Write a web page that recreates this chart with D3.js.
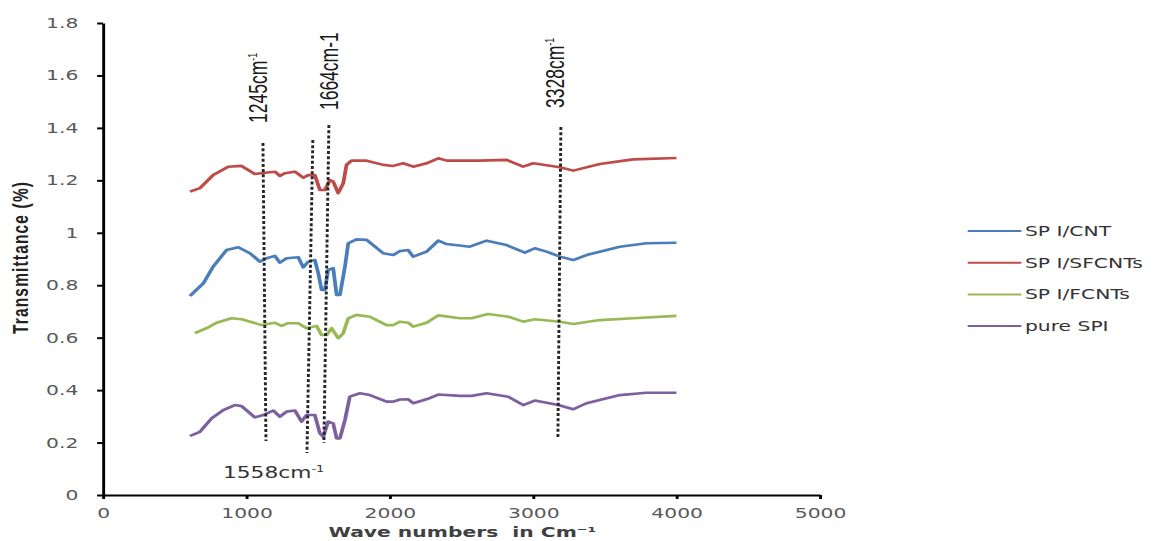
<!DOCTYPE html>
<html>
<head>
<meta charset="utf-8">
<script src="https://cdn.jsdelivr.net/npm/d3@7"></script>
<style>
  html, body { margin: 0; padding: 0; background: #fff; }
  #chart { width: 1154px; height: 541px; }
</style>
</head>
<body>
<div id="chart"></div>
<script>
// --------------------------------------
//  Data  [wave number, transmittance]
// --------------------------------------

const spiCnt = [[607,0.759],[700,0.807],[769,0.871],[862,0.934],[944,0.945],[1025,0.922],[1095,0.890],[1142,0.903],[1199,0.912],[1234,0.886],[1281,0.903],[1362,0.907],[1397,0.868],[1432,0.890],[1478,0.896],[1502,0.846],[1525,0.782],[1548,0.782],[1571,0.858],[1606,0.865],[1630,0.763],[1653,0.763],[1688,0.871],[1711,0.960],[1769,0.975],[1839,0.973],[1955,0.922],[2025,0.915],[2071,0.930],[2129,0.934],[2164,0.909],[2257,0.928],[2339,0.970],[2397,0.957],[2559,0.947],[2676,0.970],[2815,0.953],[2943,0.924],[3012,0.941],[3094,0.928],[3187,0.909],[3280,0.896],[3373,0.915],[3605,0.947],[3791,0.960],[4000,0.962]];

const spiSfcnt = [[607,1.157],[676,1.170],[769,1.220],[874,1.252],[967,1.255],[1060,1.224],[1130,1.229],[1199,1.233],[1234,1.217],[1269,1.227],[1339,1.233],[1397,1.210],[1432,1.220],[1478,1.220],[1513,1.163],[1548,1.163],[1583,1.201],[1606,1.195],[1641,1.151],[1676,1.189],[1699,1.259],[1734,1.275],[1839,1.275],[1955,1.259],[2025,1.255],[2094,1.265],[2164,1.252],[2257,1.265],[2339,1.284],[2397,1.275],[2629,1.275],[2815,1.278],[2931,1.252],[3001,1.265],[3187,1.250],[3280,1.237],[3466,1.262],[3698,1.280],[4000,1.285]];

const spiFcnt = [[642,0.617],[723,0.636],[793,0.657],[897,0.674],[967,0.670],[1107,0.648],[1199,0.657],[1246,0.645],[1292,0.655],[1362,0.655],[1420,0.636],[1490,0.645],[1525,0.610],[1560,0.610],[1595,0.636],[1641,0.598],[1676,0.617],[1711,0.674],[1769,0.687],[1862,0.680],[1978,0.648],[2025,0.648],[2071,0.661],[2129,0.657],[2164,0.642],[2257,0.657],[2339,0.685],[2490,0.674],[2571,0.674],[2687,0.690],[2827,0.680],[2931,0.661],[3012,0.670],[3187,0.661],[3280,0.652],[3466,0.667],[3698,0.674],[4000,0.683]];

const pureSpi = [[607,0.225],[676,0.241],[758,0.292],[839,0.324],[920,0.343],[967,0.339],[1060,0.296],[1118,0.305],[1188,0.322],[1234,0.299],[1281,0.318],[1339,0.322],[1385,0.280],[1420,0.305],[1478,0.305],[1513,0.235],[1537,0.222],[1571,0.280],[1606,0.273],[1630,0.216],[1653,0.216],[1688,0.286],[1722,0.375],[1792,0.388],[1862,0.381],[1978,0.356],[2025,0.356],[2071,0.364],[2129,0.365],[2164,0.350],[2257,0.365],[2339,0.383],[2490,0.378],[2571,0.378],[2676,0.388],[2827,0.375],[2931,0.343],[3012,0.360],[3176,0.343],[3280,0.327],[3373,0.350],[3605,0.381],[3791,0.390],[4000,0.390]];

const seriesNames = ["SP I/CNT", "SP I/SFCNTs", "SP I/FCNTs", "pure SPI"];
const seriesData = [spiCnt, spiSfcnt, spiFcnt, pureSpi];
const seriesColors = ["#4a7ebb", "#be4b48", "#98b954", "#7d60a0"];

const xTicks = [0, 1000, 2000, 3000, 4000, 5000];
const yTicks = [0, 0.2, 0.4, 0.6, 0.8, 1, 1.2, 1.4, 1.6, 1.8];

// dashed marker lines: [x top, y top, x bottom, y bottom]
const markerLines = [[1116,1.342,1137,0.206],[1464,1.354,1423,0.160],[1576,1.411,1541,0.198],[3194,1.403,3173,0.217]];
// rotated peak labels: [text, superscript, x, y]
const peakLabels = [["1245cm", "-1", 1144, 1.419], ["1664cm-1", "", 1639, 1.468], ["3328cm", "-1", 3215, 1.476]];

// --------------------------------------
//  Canvas (the original picture is stretched sideways)
// --------------------------------------

const width = 796, height = 541;
const margin = {top: 23, right: 230.5, bottom: 46, left: 71};
const innerwidth = width - margin.left - margin.right;
const innerheight = height - margin.top - margin.bottom;

const svg = d3.select("#chart")
  .append("svg")
    .attr("width", 1154)
    .attr("height", 541)
    .attr("viewBox", [0, 0, width, height])
    .attr("preserveAspectRatio", "none");

const inner = svg
  .append("g")
    .attr("transform", `translate(${margin.left}, ${margin.top})`);

// --------------------------------------
//  Scales
// --------------------------------------

const x = d3.scaleLinear().domain([0, 5000]).range([0, innerwidth]);
const y = d3.scaleLinear().domain([0, 1.8]).range([innerheight, 0]);

// --------------------------------------
//  Axes
// --------------------------------------

const xAxis = inner.append("g")
    .attr("transform", `translate(0, ${innerheight})`)
    .call(d3.axisBottom(x).tickValues(xTicks).tickFormat(d3.format("d"))
      .tickSize(4).tickPadding(9).tickSizeOuter(0));

const yAxis = inner.append("g")
    .call(d3.axisLeft(y).tickValues(yTicks).tickFormat(d => String(+d.toFixed(1)))
      .tickSize(4).tickPadding(13).tickSizeOuter(0));

[xAxis, yAxis].forEach(a => {
  a.select(".domain").attr("stroke", "#000").attr("stroke-width", 2);
  a.selectAll(".tick line").attr("stroke", "#000").attr("stroke-width", 2);
  a.selectAll(".tick text")
    .attr("fill", "#595959")
    .attr("font-family", "DejaVu Sans")
    .attr("font-size", 14);
});

svg.append("text")
    .attr("x", 319)
    .attr("y", 537)
    .attr("text-anchor", "middle")
    .attr("font-family", "DejaVu Sans")
    .attr("font-weight", "bold")
    .attr("font-size", 14)
    .attr("fill", "#404040")
    .text("Wave numbers  in Cm⁻¹")
    .style("white-space", "pre");

svg.append("text")
    .attr("transform", "translate(19, 258) rotate(-90)")
    .attr("text-anchor", "middle")
    .attr("font-family", "Liberation Sans")
    .attr("font-weight", "bold")
    .attr("font-size", 15.5)
    .attr("textLength", 152)
    .attr("fill", "#222")
    .text("Transmittance (%)");

// --------------------------------------
//  Series
// --------------------------------------

const line = d3.line().x(d => x(d[0])).y(d => y(d[1]));

inner.selectAll(".series")
    .data(seriesData)
    .join("path")
    .attr("class", "series")
    .attr("d", line)
    .attr("fill", "none")
    .attr("stroke", (d, i) => seriesColors[i])
    .attr("stroke-width", 2.6)
    .attr("stroke-linejoin", "round");

// --------------------------------------
//  Marker lines and labels
// --------------------------------------

inner.selectAll(".marker")
    .data(markerLines)
    .join("line")
    .attr("class", "marker")
    .attr("x1", d => x(d[0]))
    .attr("y1", d => y(d[1]))
    .attr("x2", d => x(d[2]))
    .attr("y2", d => y(d[3]))
    .attr("stroke", "#262626")
    .attr("stroke-width", 2)
    .attr("stroke-dasharray", "3,2.2");

const peaks = inner.selectAll(".peak")
    .data(peakLabels)
    .join("text")
    .attr("class", "peak")
    .attr("transform", d => `translate(${x(d[2])}, ${y(d[3])}) rotate(-90)`)
    .attr("font-family", "Liberation Sans")
    .attr("font-size", 17.5)
    .attr("fill", "#1a1a1a");

peaks.append("tspan").text(d => d[0]);
peaks.append("tspan")
    .attr("dy", -7)
    .attr("font-size", 9)
    .text(d => d[1]);

const low = inner.append("text")
    .attr("x", x(837))
    .attr("y", y(0.065))
    .attr("font-family", "DejaVu Sans")
    .attr("font-size", 15)
    .attr("fill", "#333");
low.append("tspan").text("1558cm");
low.append("tspan").attr("dy", -6).attr("font-size", 9).text("-1");

// --------------------------------------
//  Legend
// --------------------------------------

const legend = svg.append("g")
    .attr("transform", "translate(667.5, 231)");

const items = legend.selectAll("g")
    .data(seriesNames)
    .join("g")
    .attr("transform", (d, i) => `translate(0, ${i * 31.7})`);

items.append("line")
    .attr("x1", 0)
    .attr("x2", 37)
    .attr("stroke", (d, i) => seriesColors[i])
    .attr("stroke-width", 2);

items.append("text")
    .attr("x", 39.5)
    .attr("dy", "0.36em")
    .attr("font-family", "DejaVu Sans")
    .attr("font-size", 14)
    .attr("fill", "#333")
    .style("white-space", "pre")
    .text(d => d);
</script>
</body>
</html>
